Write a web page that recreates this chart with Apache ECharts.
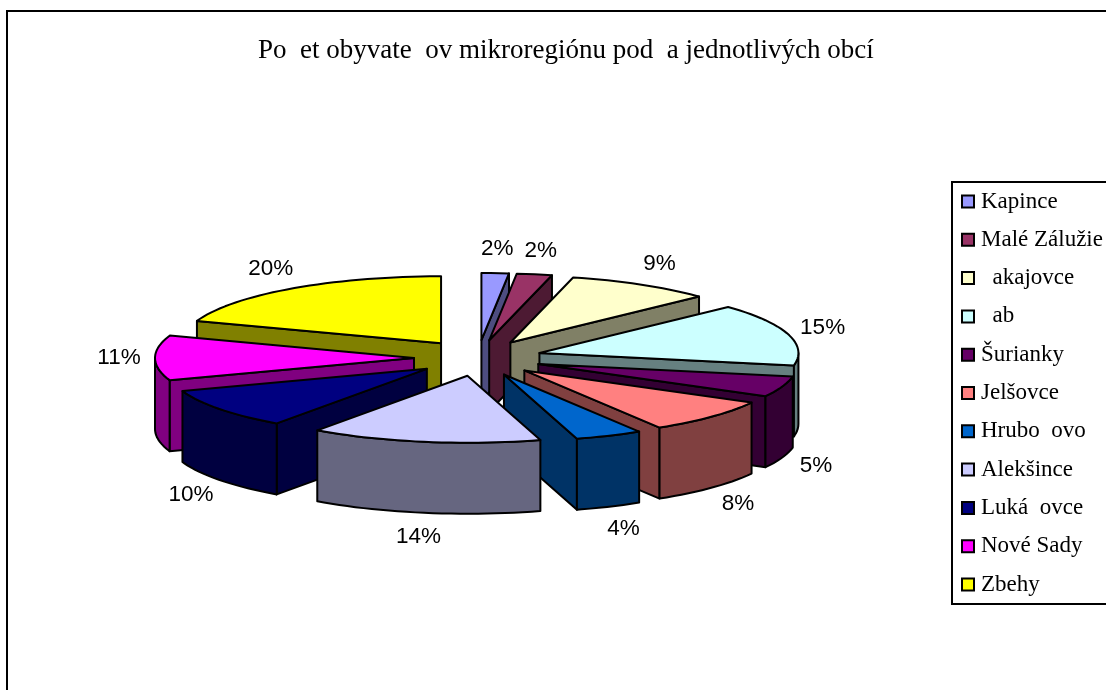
<!DOCTYPE html>
<html>
<head>
<meta charset="utf-8">
<title>Po et obyvate ov</title>
<script src="https://cdn.jsdelivr.net/npm/echarts@6/dist/echarts.min.js"></script>
<style>
	html, body { margin: 0; padding: 0; background: #fff; }
	#pie_chart { width: 1106px; height: 690px; }
</style>
</head>
<body>
<div id="pie_chart"></div>
<script>
var categories = ['Kapince', 'Malé Zálužie', '  akajovce', '  ab', 'Šurianky', 'Jelšovce', 'Hrubo  ovo', 'Alekšince', 'Luká  ovce', 'Nové Sady', 'Zbehy'];
// shares, labels round them
var values = [1.7, 2.2, 9.1, 15, 5, 8.3, 4.2, 14.4, 9.8, 10.8, 19.6];
var colors = ['#9999FF', '#993366', '#FFFFCC', '#CCFFFF', '#660066', '#FF8080', '#0066CC', '#CCCCFF', '#000080', '#FF00FF', '#FFFF00'];
var sideColors = ['#4D4D80', '#4D1A33', '#808066', '#668080', '#330033', '#804040', '#003366', '#666680', '#000040', '#800080', '#808000'];
var paintOrder = [10, 0, 1, 2, 3, 4, 5, 6, 9, 8, 7]; // back to front

// 3d pie projection
var cx = 478, cy = 358;
var rx = 259, ry = 67;
var explodeX = 64, explodeY = 18;
var depth = 71;
var labelRx = 295, labelRy = 91;

var total = values.reduce(function (a, b) { return a + b; }, 0);

function rad(deg) {
	return deg * Math.PI / 180;
}

function renderSlice(index, api) {
	var before = 0;
	for (var i = 0; i < index; i++) {
		before += values[i];
	}
	var start = before / total * 360;
	var end = (before + values[index]) / total * 360;
	var mid = (start + end) / 2;
	var ax = cx + explodeX * Math.sin(rad(mid));
	var ay = cy - explodeY * Math.cos(rad(mid));

	function rim(deg) {
		return [ax + rx * Math.sin(rad(deg)), ay - ry * Math.cos(rad(deg))];
	}
	function arc(from, to) {
		var pts = [];
		for (var d = from; d < to; d += 2) {
			pts.push(rim(d));
		}
		pts.push(rim(to));
		return pts;
	}
	function face(points, fill) {
		return {
			type: 'polygon',
			shape: { points: points },
			style: { fill: fill, stroke: '#000', lineWidth: 2, lineJoin: 'round' }
		};
	}
	function wall(points, fill) {
		var lower = points.slice().reverse().map(function (p) {
			return [p[0], p[1] + depth];
		});
		return face(points.concat(lower), fill);
	}

	var children = [];
	var apex = [ax, ay];
	// only walls facing the viewer
	if (Math.sin(rad(start)) < -0.001) {
		children.push(wall([apex, rim(start)], sideColors[index]));
	}
	if (Math.sin(rad(end)) > 0.001) {
		children.push(wall([apex, rim(end)], sideColors[index]));
	}
	var rimFrom = Math.max(start, 90), rimTo = Math.min(end, 270);
	if (rimFrom < rimTo) {
		children.push(wall(arc(rimFrom, rimTo), sideColors[index]));
	}
	children.push(face([apex].concat(arc(start, end)), colors[index]));

	var cosMid = Math.cos(rad(mid));
	children.push({
		type: 'text',
		style: {
			text: Math.round(api.value(0) / total * 100) + '%',
			x: ax + labelRx * Math.sin(rad(mid)),
			y: ay - labelRy * cosMid + (cosMid < -0.1 ? depth : 0),
			fill: '#000',
			fontFamily: 'Liberation Sans',
			fontSize: 22.5,
			align: 'center',
			verticalAlign: 'middle'
		}
	});
	return { type: 'group', children: children };
}

var chart = echarts.init(document.getElementById('pie_chart'));
chart.setOption({
	animation: false,
	backgroundColor: '#fff',
	title: {
		text: 'Po  et obyvate  ov mikroregiónu pod  a jednotlivých obcí',
		left: 258,
		top: 37,
		padding: 0,
		textStyle: {
			fontFamily: 'Liberation Serif',
			fontWeight: 'normal',
			fontSize: 27,
			color: '#000'
		}
	},
	legend: {
		orient: 'vertical',
		left: 952,
		top: 182,
		padding: [8, 40, 8, 9],
		itemWidth: 12,
		itemHeight: 12,
		itemGap: 15.3,
		icon: 'rect',
		selectedMode: false,
		borderColor: '#000',
		borderWidth: 2,
		backgroundColor: '#fff',
		itemStyle: { borderColor: '#000', borderWidth: 2 },
		textStyle: {
			fontFamily: 'Liberation Serif',
			fontSize: 23,
			color: '#000',
			padding: [0, 0, 0, 2]
		},
		data: categories
	},
	graphic: [{
		type: 'rect',
		z: -1,
		silent: true,
		shape: { x: 7, y: 11, width: 1300, height: 900 },
		style: { fill: 'none', stroke: '#000', lineWidth: 2 }
	}],
	series: categories.map(function (name, i) {
		return {
			name: name,
			type: 'custom',
			coordinateSystem: 'none',
			silent: true,
			z: 2 + paintOrder.indexOf(i),
			itemStyle: { color: colors[i] },
			data: [values[i]],
			renderItem: function (params, api) {
				return renderSlice(i, api);
			}
		};
	})
});
</script>
</body>
</html>
